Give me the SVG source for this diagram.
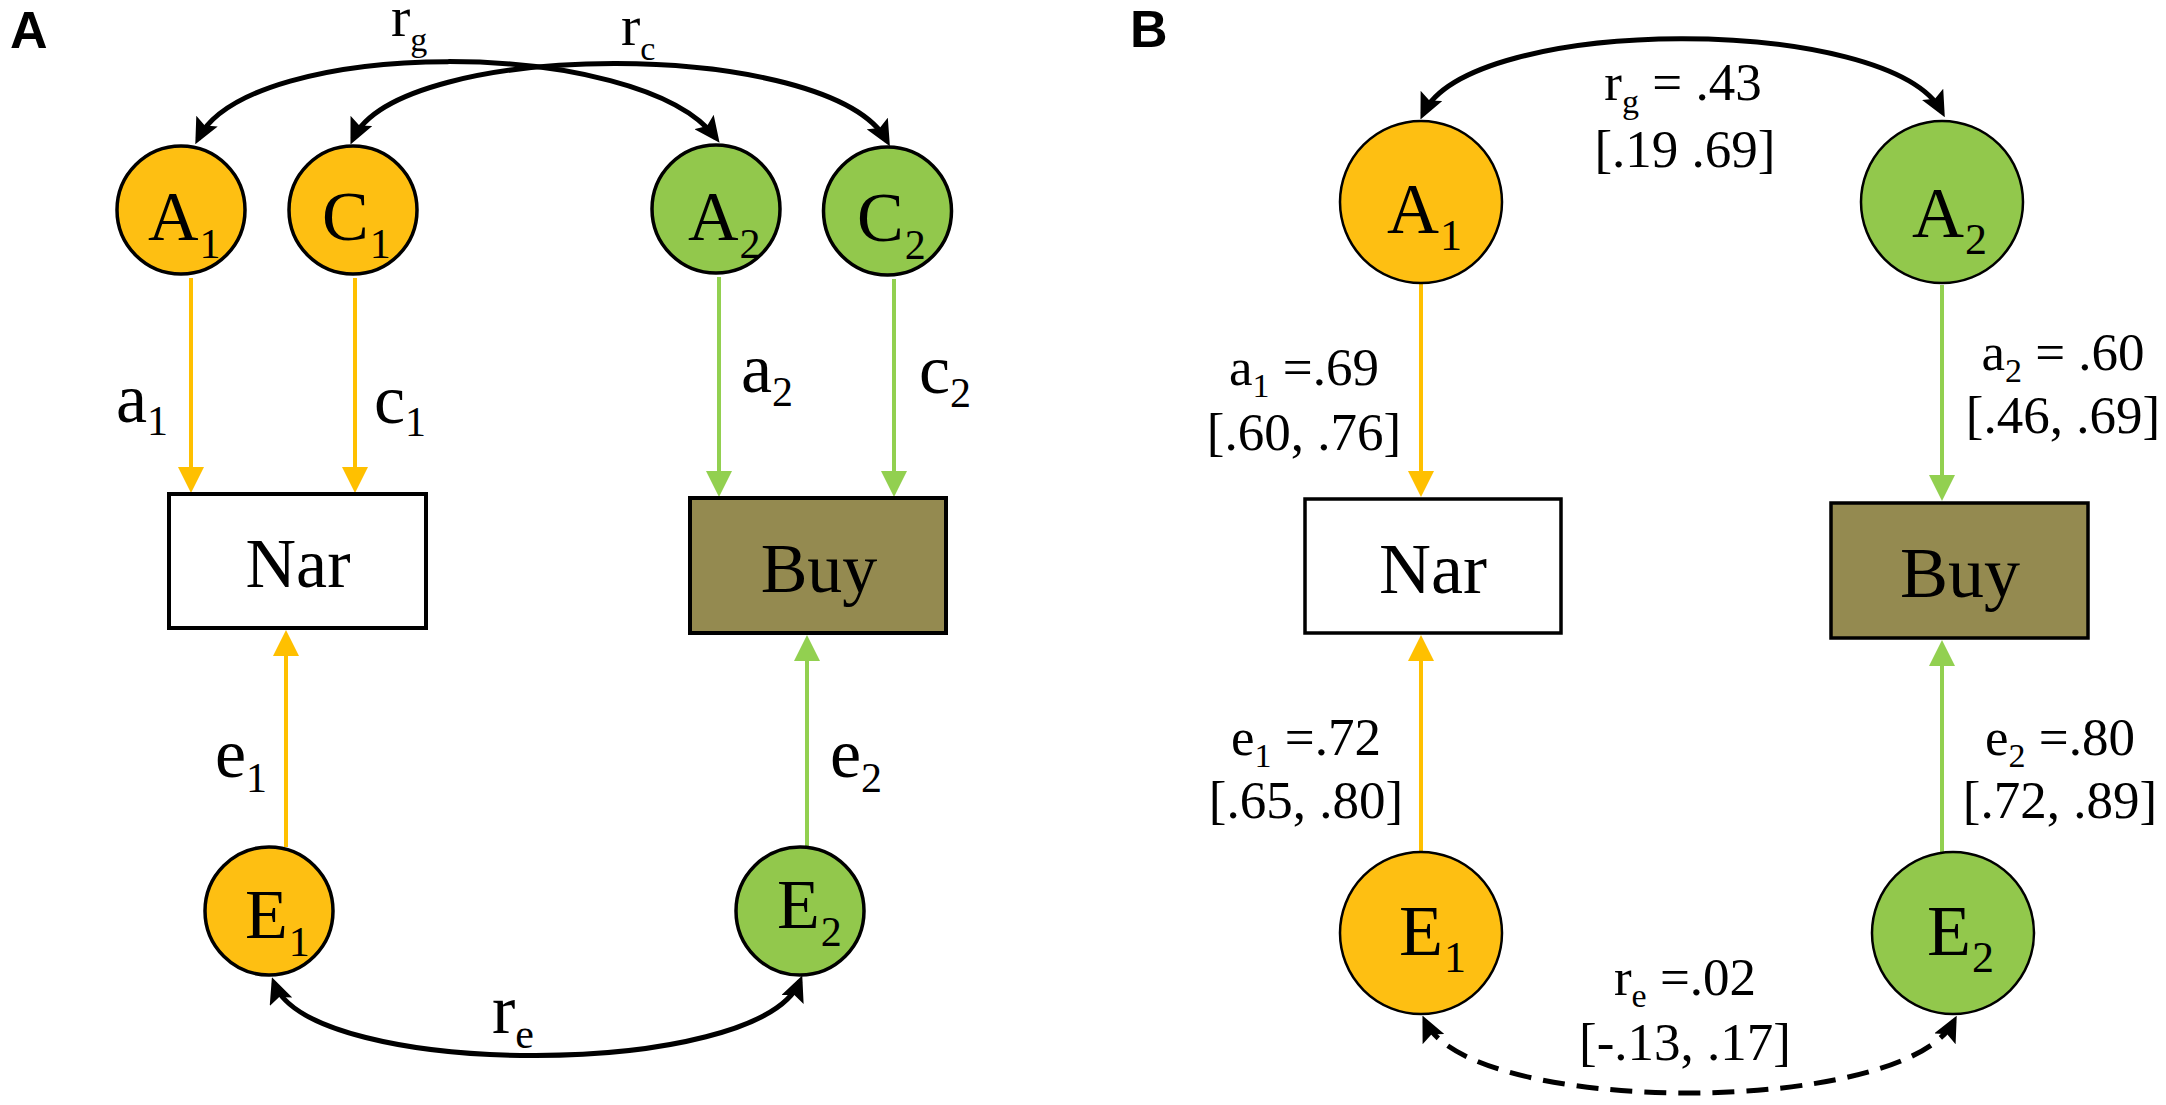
<svg xmlns="http://www.w3.org/2000/svg" width="2166" height="1105" viewBox="0 0 2166 1105">
<style>
.t{font-family:"Liberation Serif","Times New Roman",serif;fill:#000}
.big{font-size:70px}
.mid{font-size:58px}
.bigB{font-size:72px}
.lab{font-size:53px}
.sA{font-size:42px}
.sB{font-size:44px}
.sL{font-size:34px}
.pl{font-family:"Liberation Sans",Arial,sans-serif;font-weight:bold;font-size:52px;fill:#000}
.or{fill:#FEBF12;stroke:#000;stroke-width:3.5}
.gr{fill:#92C84C;stroke:#000;stroke-width:3.5}
.orB{fill:#FEBF12;stroke:#000;stroke-width:2.5}
.grB{fill:#92C84C;stroke:#000;stroke-width:2.5}
.lo{stroke:#FFC000;stroke-width:4;fill:none;marker-end:url(#ao)}
.lg{stroke:#92D050;stroke-width:4;fill:none;marker-end:url(#ag)}
.cv{stroke:#000;stroke-width:5;fill:none;marker-start:url(#ab);marker-end:url(#ab)}
.dash{stroke-dasharray:22 12}
</style>
<defs>
<marker id="ao" markerUnits="userSpaceOnUse" markerWidth="26" markerHeight="26" viewBox="0 0 26 26" refX="22" refY="13" orient="auto"><path d="M0,0 L26,13 L0,26 z" fill="#FFC000"/></marker>
<marker id="ag" markerUnits="userSpaceOnUse" markerWidth="26" markerHeight="26" viewBox="0 0 26 26" refX="22" refY="13" orient="auto"><path d="M0,0 L26,13 L0,26 z" fill="#92D050"/></marker>
<marker id="ab" markerUnits="userSpaceOnUse" markerWidth="26" markerHeight="24" viewBox="0 0 26 24" refX="20" refY="12" orient="auto-start-reverse"><path d="M0,0 L26,12 L0,24 L5,12 z" fill="#000"/></marker>
</defs>
<rect width="2166" height="1105" fill="#fff"/>

<text class="pl" x="10" y="48">A</text>
<text class="pl" x="1130" y="47">B</text>

<g id="connectors">
  <!-- panel A -->
  <line class="lo" x1="191" y1="278" x2="191" y2="489"/>
  <line class="lo" x1="355" y1="278" x2="355" y2="489"/>
  <line class="lg" x1="719" y1="277" x2="719" y2="493"/>
  <line class="lg" x1="894" y1="279" x2="894" y2="493"/>
  <line class="lo" x1="286" y1="847" x2="286" y2="634"/>
  <line class="lg" x1="807" y1="847" x2="807" y2="639"/>
  <path class="cv" d="M198,139 C250,36 640,36 716,138"/>
  <path class="cv" d="M353,139 C400,38 830,38 887,141"/>
  <path class="cv" d="M274,983 C310,1080 760,1080 800,981"/>
  <!-- panel B -->
  <line class="lo" x1="1421" y1="284" x2="1421" y2="493"/>
  <line class="lg" x1="1942" y1="285" x2="1942" y2="497"/>
  <line class="lo" x1="1421" y1="852" x2="1421" y2="639"/>
  <line class="lg" x1="1942" y1="852" x2="1942" y2="644"/>
  <path class="cv" d="M1423,114 C1470,14 1890,14 1942,112"/>
  <path class="cv dash" d="M1425,1021 C1470,1117 1905,1117 1954,1021"/>
</g>

<g id="labels-A">
  <text class="t mid" x="391" y="36">r<tspan class="sL" dy="15">g</tspan></text>
  <text class="t mid" x="621" y="45">r<tspan class="sL" dy="15">c</tspan></text>
  <text class="t big" x="116" y="422">a<tspan class="sA" dy="13">1</tspan></text>
  <text class="t big" x="374" y="423">c<tspan class="sA" dy="13">1</tspan></text>
  <text class="t big" x="741" y="392">a<tspan class="sA" dy="14">2</tspan></text>
  <text class="t big" x="919" y="393">c<tspan class="sA" dy="14">2</tspan></text>
  <text class="t big" x="215" y="777">e<tspan class="sA" dy="15">1</tspan></text>
  <text class="t big" x="830" y="777">e<tspan class="sA" dy="15">2</tspan></text>
  <text class="t big" x="492" y="1033">r<tspan class="sA" dy="15">e</tspan></text>
</g>

<g id="A-A1"><circle class="or" cx="181" cy="210" r="64"/><text class="t big" x="148" y="240">A<tspan class="sA" dy="18" dx="1">1</tspan></text></g>
<g id="A-C1"><circle class="or" cx="353" cy="210" r="64"/><text class="t big" x="322" y="240">C<tspan class="sA" dy="18" dx="1">1</tspan></text></g>
<g id="A-A2"><circle class="gr" cx="716" cy="209" r="64"/><text class="t big" x="688" y="240">A<tspan class="sA" dy="18" dx="1">2</tspan></text></g>
<g id="A-C2"><circle class="gr" cx="887.5" cy="211" r="64"/><text class="t big" x="857" y="241">C<tspan class="sA" dy="18" dx="1">2</tspan></text></g>
<g id="A-Nar"><rect x="169" y="494" width="257" height="134" fill="#fff" stroke="#000" stroke-width="4"/><text class="t big" x="298" y="587" text-anchor="middle">Nar</text></g>
<g id="A-Buy"><rect x="690" y="498" width="256" height="135" fill="#948A50" stroke="#000" stroke-width="4"/><text class="t big" x="819" y="592" text-anchor="middle">Buy</text></g>
<g id="A-E1"><circle class="or" cx="269" cy="911" r="64"/><text class="t big" x="245" y="938">E<tspan class="sA" dy="18" dx="1">1</tspan></text></g>
<g id="A-E2"><circle class="gr" cx="800" cy="911" r="64"/><text class="t big" x="777" y="928">E<tspan class="sA" dy="18" dx="1">2</tspan></text></g>

<g id="labels-B">
  <text class="t lab" x="1683" y="100" text-anchor="middle">r<tspan class="sL" dy="13">g</tspan><tspan dy="-13"> = .43</tspan></text>
  <text class="t lab" x="1685" y="167" text-anchor="middle">[.19 .69]</text>
  <text class="t lab" x="1304" y="385" text-anchor="middle">a<tspan class="sL" dy="12">1</tspan><tspan dy="-12"> =.69</tspan></text>
  <text class="t lab" x="1304" y="450" text-anchor="middle">[.60, .76]</text>
  <text class="t lab" x="2063" y="370" text-anchor="middle">a<tspan class="sL" dy="12">2</tspan><tspan dy="-12"> = .60</tspan></text>
  <text class="t lab" x="2063" y="433" text-anchor="middle">[.46, .69]</text>
  <text class="t lab" x="1306" y="755" text-anchor="middle">e<tspan class="sL" dy="12">1</tspan><tspan dy="-12"> =.72</tspan></text>
  <text class="t lab" x="1306" y="818" text-anchor="middle">[.65, .80]</text>
  <text class="t lab" x="2060" y="755" text-anchor="middle">e<tspan class="sL" dy="12">2</tspan><tspan dy="-12"> =.80</tspan></text>
  <text class="t lab" x="2060" y="818" text-anchor="middle">[.72, .89]</text>
  <text class="t lab" x="1685" y="995" text-anchor="middle">r<tspan class="sL" dy="12">e</tspan><tspan dy="-12"> =.02</tspan></text>
  <text class="t lab" x="1685" y="1060" text-anchor="middle">[-.13, .17]</text>
</g>

<g id="B-A1"><circle class="orB" cx="1421" cy="202" r="81"/><text class="t bigB" x="1387" y="233">A<tspan class="sB" dy="17" dx="1">1</tspan></text></g>
<g id="B-A2"><circle class="grB" cx="1942" cy="202" r="81"/><text class="t bigB" x="1912" y="237">A<tspan class="sB" dy="17" dx="1">2</tspan></text></g>
<g id="B-Nar"><rect x="1305" y="499" width="256" height="134" fill="#fff" stroke="#000" stroke-width="3.5"/><text class="t bigB" x="1433" y="593" text-anchor="middle">Nar</text></g>
<g id="B-Buy"><rect x="1831" y="503" width="257" height="135" fill="#948A50" stroke="#000" stroke-width="3.5"/><text class="t bigB" x="1960" y="597" text-anchor="middle">Buy</text></g>
<g id="B-E1"><circle class="orB" cx="1421" cy="933" r="81"/><text class="t bigB" x="1399" y="955">E<tspan class="sB" dy="17" dx="1">1</tspan></text></g>
<g id="B-E2"><circle class="grB" cx="1953" cy="933" r="81"/><text class="t bigB" x="1927" y="955">E<tspan class="sB" dy="17" dx="1">2</tspan></text></g>
</svg>
